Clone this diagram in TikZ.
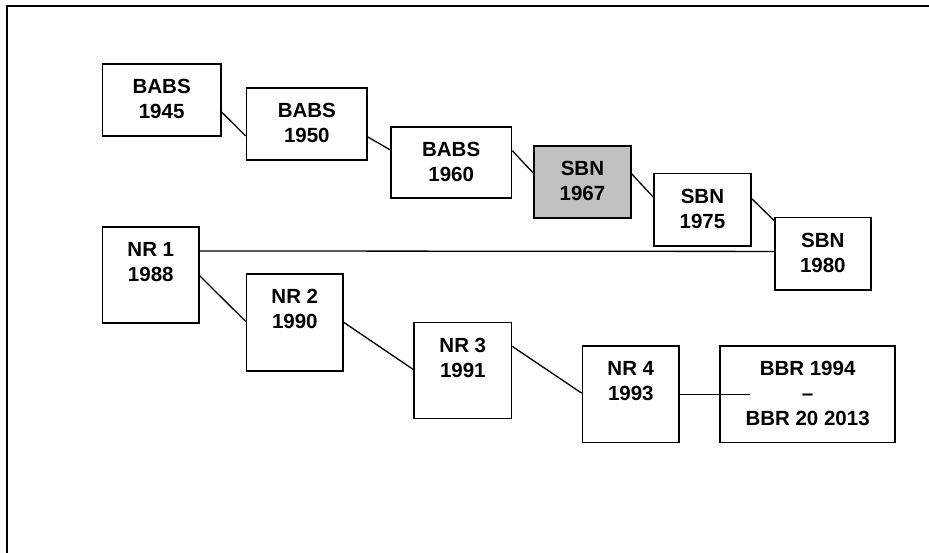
\documentclass[tikz,border=0pt]{standalone}
\usepackage{fontspec}
\setmainfont{Liberation Sans}
\usetikzlibrary{calc}
\definecolor{boxgray}{HTML}{C0C0C0}
\tikzset{
  tbox/.style={draw=black, line width=1.6pt, inner sep=0pt, anchor=north west},
  txt/.style={anchor=north, yshift=-16pt, inner sep=0pt, align=center,
    font=\fontsize{20.5}{25}\selectfont\bfseries},
  conn/.style={line width=1.3pt},
}
\newcommand{\tb}[6]{% name, left, top, right, bottom, text
  \pgfmathsetmacro{\bw}{#4-#2}\pgfmathsetmacro{\bh}{#5-#3}%
  \node[tbox, minimum width=\bw pt, minimum height=\bh pt,
        label={[txt]north:{#6}}] (#1) at (#2,#3) {};}
\begin{document}
\begin{tikzpicture}[x=1pt,y=-1pt]
\useasboundingbox (0,0) rectangle (929,553);
\draw[line width=2pt] (7,560) -- (7,6) -- (935,6);

\tb{b45}{101.7}{63.3}{220}{135}{BABS\\1945}
\tb{b50}{245.7}{87.3}{366.3}{159.3}{BABS\\1950}
\tb{b60}{390}{126}{510.7}{197}{BABS\\1960}
\node[tbox, fill=boxgray, minimum width=96.7pt, minimum height=72.3pt,
      label={[txt]north:{SBN\\1967}}] (s67) at (533.3,145) {};
\tb{s75}{653.3}{172.7}{750}{245}{SBN\\1975}
\tb{s80}{774}{216.7}{870}{289}{SBN\\1980}
\tb{n1}{101.7}{226}{198.3}{322.3}{NR 1\\1988}
\tb{n2}{245.7}{273.3}{342.3}{370}{NR 2\\1990}
\tb{n3}{413.3}{321.7}{510.7}{417.7}{NR 3\\1991}
\tb{n4}{581.7}{345}{678.3}{441.7}{NR 4\\1993}
\tb{bbr}{719.3}{345}{894.3}{441.7}{BBR 1994\\--\\BBR 20 2013}

\draw[conn] ($(b45.north east)!0.665!(b45.south east)$) -- ($(b50.north west)!0.66!(b50.south west)$);
\draw[conn] ($(b50.north east)!0.676!(b50.south east)$) -- ($(b60.north west)!0.327!(b60.south west)$);
\draw[conn] ($(b60.north east)!0.34!(b60.south east)$) -- ($(s67.north west)!0.38!(s67.south west)$);
\draw[conn] ($(s67.north east)!0.39!(s67.south east)$) -- ($(s75.north west)!0.33!(s75.south west)$);
\draw[conn] ($(s75.north east)!0.35!(s75.south east)$) -- ($(s80.north west)!0.05!(s80.south west)$);
\draw[conn] ($(n1.north east)!0.255!(n1.south east)$) -- ($(s80.north west)!0.47!(s80.south west)$);
\draw[conn] ($(n1.north east)!0.51!(n1.south east)$) -- ($(n2.north west)!0.49!(n2.south west)$);
\draw[conn] ($(n2.north east)!0.5!(n2.south east)$) -- ($(n3.north west)!0.49!(n3.south west)$);
\draw[conn] ($(n3.north east)!0.253!(n3.south east)$) -- ($(n4.north west)!0.49!(n4.south west)$);
\coordinate (bbrin) at ($(bbr.north west)!0.5!(bbr.south west) + (30.7,0)$);
\draw[conn] ($(n4.north east)!0.5!(n4.south east)$) -- (bbrin);
\end{tikzpicture}
\end{document}
